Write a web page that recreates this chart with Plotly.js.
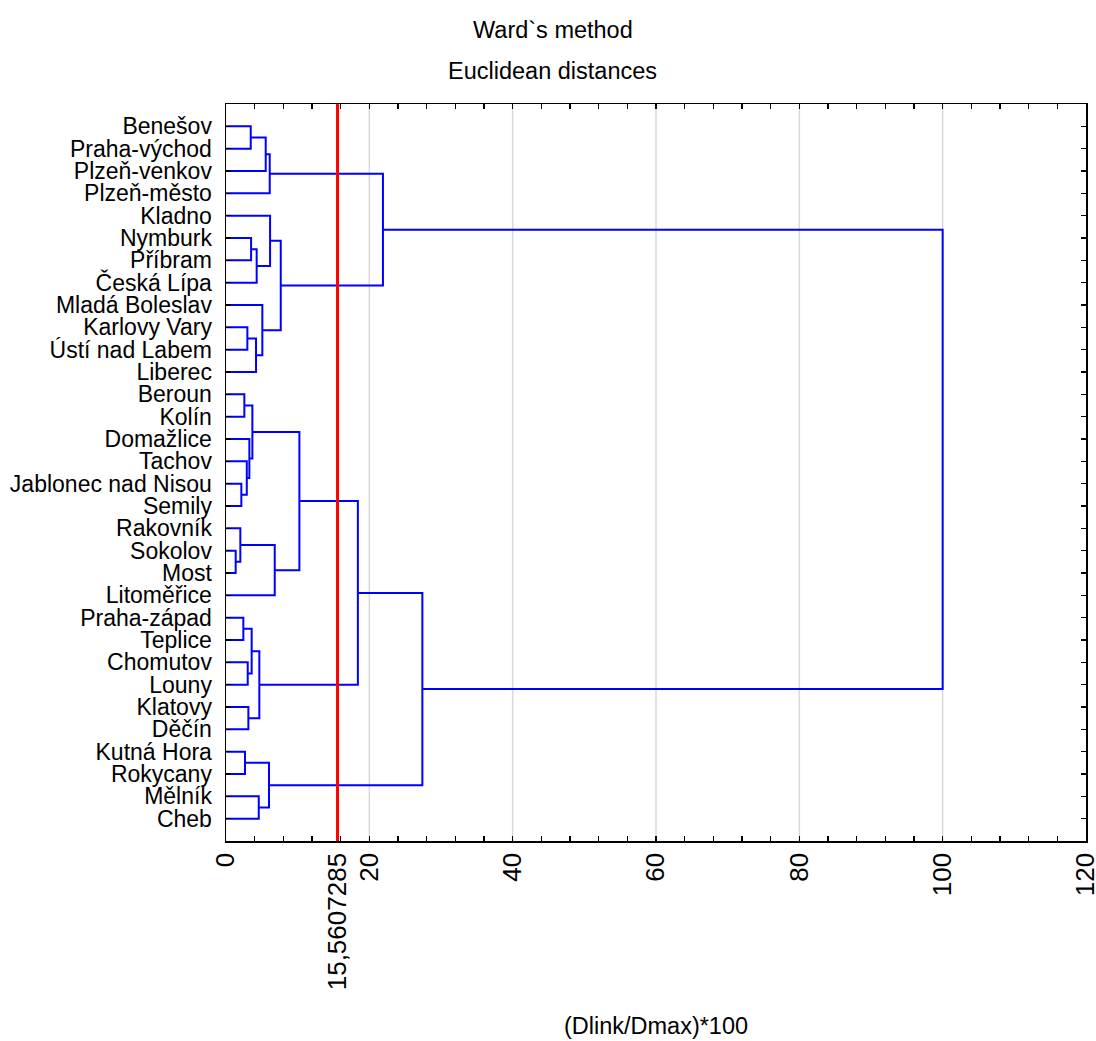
<!DOCTYPE html>
<html>
<head>
<meta charset="utf-8">
<script src="https://cdn.plot.ly/plotly-3.0.1.min.js"></script>
<style>html,body{margin:0;padding:0;background:#fff;}#chart{width:1096px;height:1041px;}</style>
</head>
<body>
<div id="chart"></div>
<script>
// Leaf labels, top to bottom
const leaves = ["Benešov","Praha-východ","Plzeň-venkov","Plzeň-město","Kladno","Nymburk","Příbram","Česká Lípa",
  "Mladá Boleslav","Karlovy Vary","Ústí nad Labem","Liberec","Beroun","Kolín","Domažlice","Tachov",
  "Jablonec nad Nisou","Semily","Rakovník","Sokolov","Most","Litoměřice","Praha-západ","Teplice",
  "Chomutov","Louny","Klatovy","Děčín","Kutná Hora","Rokycany","Mělník","Cheb"];
// Linkage: index < 32 = leaf, index >= 32 = cluster (32 + merge number)
const mergeA = [19,18,16,22,12,28,15, 9,24,26,14, 0, 5,35,36,39,44,30,45, 8,43,37,52, 4,33,55,46,58,54,59,60];
const mergeB = [20,32,17,23,13,29,34,10,25,27,38, 1, 6,40,42,11, 7,31,41,47, 2,49, 3,48,21,51,56,50,57,53,61];
const mergeH = [1.35,2.0,2.14,2.42,2.56,2.65,2.9,2.98,3.03,3.12,3.26,3.45,3.5,3.58,3.68,4.19,4.28,4.57,4.65,5.07,
  5.54,6.0,6.1,6.15,6.8,7.64,10.24,18.4,21.9,27.4,100];
const cutLevel = 15.5607285;
const gridVals = [20,40,60,80,100];
const tickStep = 4;
const xMax = 120;

const n = leaves.length;
const posY = [], posX = [];
for (let i = 0; i < n; i++) { posY.push(i + 1); posX.push(0); }
const lx = [], ly = [];
for (let k = 0; k < mergeA.length; k++) {
  const a = mergeA[k], b = mergeB[k], h = mergeH[k];
  lx.push(posX[a], h, h, posX[b], null);
  ly.push(posY[a], posY[a], posY[b], posY[b], null);
  posY.push((posY[a] + posY[b]) / 2);
  posX.push(h);
}

const tv = [], tt = [];
for (let v = 0; v <= xMax; v += tickStep) { tv.push(v); tt.push(v % 20 === 0 ? String(v) : ""); }
tv.push(cutLevel); tt.push(String(cutLevel).replace(".", ","));

const font = "Liberation Sans, Arial, sans-serif";
const data = [{
  type: "scatter", mode: "lines", x: lx, y: ly,
  line: {color: "#0000ff", width: 2}, hoverinfo: "skip", showlegend: false
}];
const shapes = gridVals.map(v => ({type: "line", xref: "x", yref: "paper", x0: v, x1: v, y0: 0, y1: 1,
  line: {color: "#d9d9d9", width: 1.5}, layer: "below"}));
shapes.push({type: "line", xref: "x", yref: "paper", x0: cutLevel, x1: cutLevel, y0: 0, y1: 1,
  line: {color: "#ff0000", width: 3}, layer: "above"});

const layout = {
  width: 1096, height: 1041,
  margin: {l: 226, r: 10, t: 104, b: 200},
  paper_bgcolor: "#fff", plot_bgcolor: "#fff",
  font: {family: font, color: "#000", size: 23},
  xaxis: {
    range: [-0.001, xMax + 0.001], tickmode: "array", tickvals: tv, ticktext: tt, tickangle: -90,
    ticks: "inside", ticklen: 5, tickcolor: "#000", tickwidth: 1.5, ticklabeloverflow: "allow",
    showline: true, linecolor: "#000", linewidth: 1.5, mirror: "ticks",
    showgrid: false, zeroline: false, tickfont: {size: 26, family: font},
    title: {text: "(Dlink/Dmax)*100", font: {size: 23.5, family: font}, standoff: 28}
  },
  yaxis: {
    range: [33, 0], tickmode: "array", tickvals: leaves.map((_, i) => i + 1), ticktext: leaves,
    ticks: "inside", ticklen: 5, tickcolor: "#000", tickwidth: 1.5,
    showline: true, linecolor: "#000", linewidth: 1.5, mirror: "ticks",
    showgrid: false, zeroline: false, tickfont: {size: 23, family: font}, ticklabelstandoff: 8
  },
  shapes: shapes,
  annotations: [
    {text: "Ward`s method", xref: "paper", yref: "paper", x: 0.38, y: 1 + 74/737, showarrow: false,
      xanchor: "center", yanchor: "middle", font: {size: 23.5, family: font}},
    {text: "Euclidean distances", xref: "paper", yref: "paper", x: 0.38, y: 1 + 33/737, showarrow: false,
      xanchor: "center", yanchor: "middle", font: {size: 23.5, family: font}}
  ]
};
Plotly.newPlot("chart", data, layout, {displayModeBar: false, staticPlot: true});
</script>
</body>
</html>
